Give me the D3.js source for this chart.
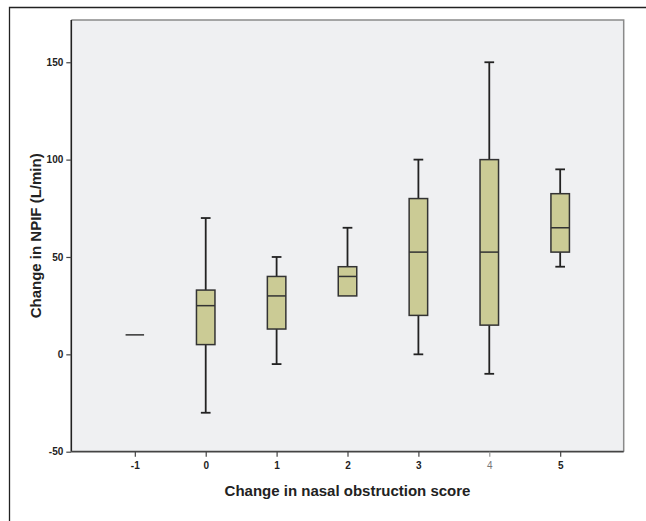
<!DOCTYPE html>
<html><head><meta charset="utf-8">
<script src="https://cdn.jsdelivr.net/npm/d3@7"></script>
<style>
html,body{margin:0;padding:0;background:#fff;}
svg{display:block;}
text{font-family:"Liberation Sans",Arial,sans-serif;}
</style></head>
<body>
<script>
const categories = ["-1","0","1","2","3","4","5"];
const lowWhisker = [10, -30, -5, 30, 0, -10, 45];
const q1 = [10, 5, 13, 30, 20, 15, 52.5];
const median = [10, 25, 30, 40, 52.5, 52.5, 65];
const q3 = [10, 33, 40, 45, 80, 100, 82.5];
const highWhisker = [10, 70, 50, 65, 100, 150, 95];
const yTicks = [-50, 0, 50, 100, 150];

const W = 646, H = 521;
const plot = {left: 71.3, right: 623.7, top: 20, bottom: 451.7};

const svg = d3.select("body").append("svg").attr("width", W).attr("height", H);

// outer frame
svg.append("path").attr("d", `M9.5,${H+2} L9.5,7.5 L${W+2},7.5`)
  .attr("fill","none").attr("stroke","#222").attr("stroke-width",1.3);

const x = d3.scalePoint().domain(categories).range([plot.left, plot.right]).padding(0.896);
const y = d3.scaleLinear().domain([-50, 171.7]).range([plot.bottom, plot.top]);

// plot background
svg.append("rect").attr("x", plot.left).attr("y", plot.top)
  .attr("width", plot.right - plot.left).attr("height", plot.bottom - plot.top)
  .attr("fill", "#eff0f2");
// top & right border (gray)
svg.append("path").attr("d", `M${plot.left},${plot.top} L${plot.right},${plot.top} L${plot.right},${plot.bottom}`)
  .attr("fill","none").attr("stroke","#8a8a8a").attr("stroke-width",1.5);

const data = categories.map((c,i)=>({c, lo: lowWhisker[i], q1: q1[i], med: median[i], q3: q3[i], hi: highWhisker[i]}));
const boxW = 18.5, capW = 9.7;

const g = svg.append("g");
const bx = g.selectAll("g.box").data(data).join("g").attr("class","box");
// whiskers
bx.append("line").attr("x1",d=>x(d.c)).attr("x2",d=>x(d.c))
  .attr("y1",d=>y(d.hi)).attr("y2",d=>y(d.q3)).attr("stroke","#222").attr("stroke-width",1.8);
bx.append("line").attr("x1",d=>x(d.c)).attr("x2",d=>x(d.c))
  .attr("y1",d=>y(d.q1)).attr("y2",d=>y(d.lo)).attr("stroke","#222").attr("stroke-width",1.8);
// caps
bx.filter(d=>d.hi!==d.q3).append("line").attr("x1",d=>x(d.c)-capW/2).attr("x2",d=>x(d.c)+capW/2)
  .attr("y1",d=>y(d.hi)).attr("y2",d=>y(d.hi)).attr("stroke","#222").attr("stroke-width",1.8);
bx.filter(d=>d.lo!==d.q1).append("line").attr("x1",d=>x(d.c)-capW/2).attr("x2",d=>x(d.c)+capW/2)
  .attr("y1",d=>y(d.lo)).attr("y2",d=>y(d.lo)).attr("stroke","#222").attr("stroke-width",1.8);
// boxes
bx.append("rect").attr("x",d=>x(d.c)-boxW/2).attr("width",boxW)
  .attr("y",d=>y(d.q3)).attr("height",d=>y(d.q1)-y(d.q3))
  .attr("fill","#cbcb95").attr("stroke","#333").attr("stroke-width",1.5);
// medians
bx.append("line").attr("x1",d=>x(d.c)-boxW/2).attr("x2",d=>x(d.c)+boxW/2)
  .attr("y1",d=>y(d.med)).attr("y2",d=>y(d.med)).attr("stroke","#333").attr("stroke-width",1.5);

// axes
const yAxis = svg.append("g").attr("transform",`translate(${plot.left},0)`)
  .call(d3.axisLeft(y).tickValues(yTicks).tickSize(5).tickPadding(3).tickFormat(d=>String(d)));
yAxis.select(".domain").attr("d", `M0,${plot.top}V${plot.bottom}`).attr("stroke","#222").attr("stroke-width",1.6);
yAxis.selectAll(".tick line").attr("stroke","#444").attr("stroke-width",1.2);
yAxis.selectAll(".tick text").attr("font-size",10).attr("font-weight","bold").attr("fill","#222")
  .attr("font-family","'Liberation Sans',Arial,sans-serif");

const xAxis = svg.append("g").attr("transform",`translate(0,${plot.bottom})`)
  .call(d3.axisBottom(x).tickSize(5).tickPadding(5));
xAxis.select(".domain").attr("d", `M${plot.left},0H${plot.right}`).attr("stroke","#444").attr("stroke-width",1.8);
xAxis.selectAll(".tick line").attr("stroke",d=>d==="4"?"#999":"#444").attr("stroke-width",1.2);
xAxis.selectAll(".tick text").attr("font-size",10).attr("font-weight",d=>d==="4"?"normal":"bold")
  .attr("fill",d=>d==="4"?"#777":"#222")
  .attr("font-family","'Liberation Sans',Arial,sans-serif");

// axis titles
svg.append("text").attr("x",(plot.left+plot.right)/2).attr("y",495.5)
  .attr("text-anchor","middle").attr("font-size",15).attr("font-weight","bold").attr("fill","#222")
  .text("Change in nasal obstruction score");
svg.append("text").attr("transform",`translate(40.5,${(plot.top+plot.bottom)/2}) rotate(-90)`)
  .attr("text-anchor","middle").attr("font-size",15).attr("font-weight","bold").attr("fill","#222")
  .text("Change in NPIF (L/min)");
</script>
</body></html>
